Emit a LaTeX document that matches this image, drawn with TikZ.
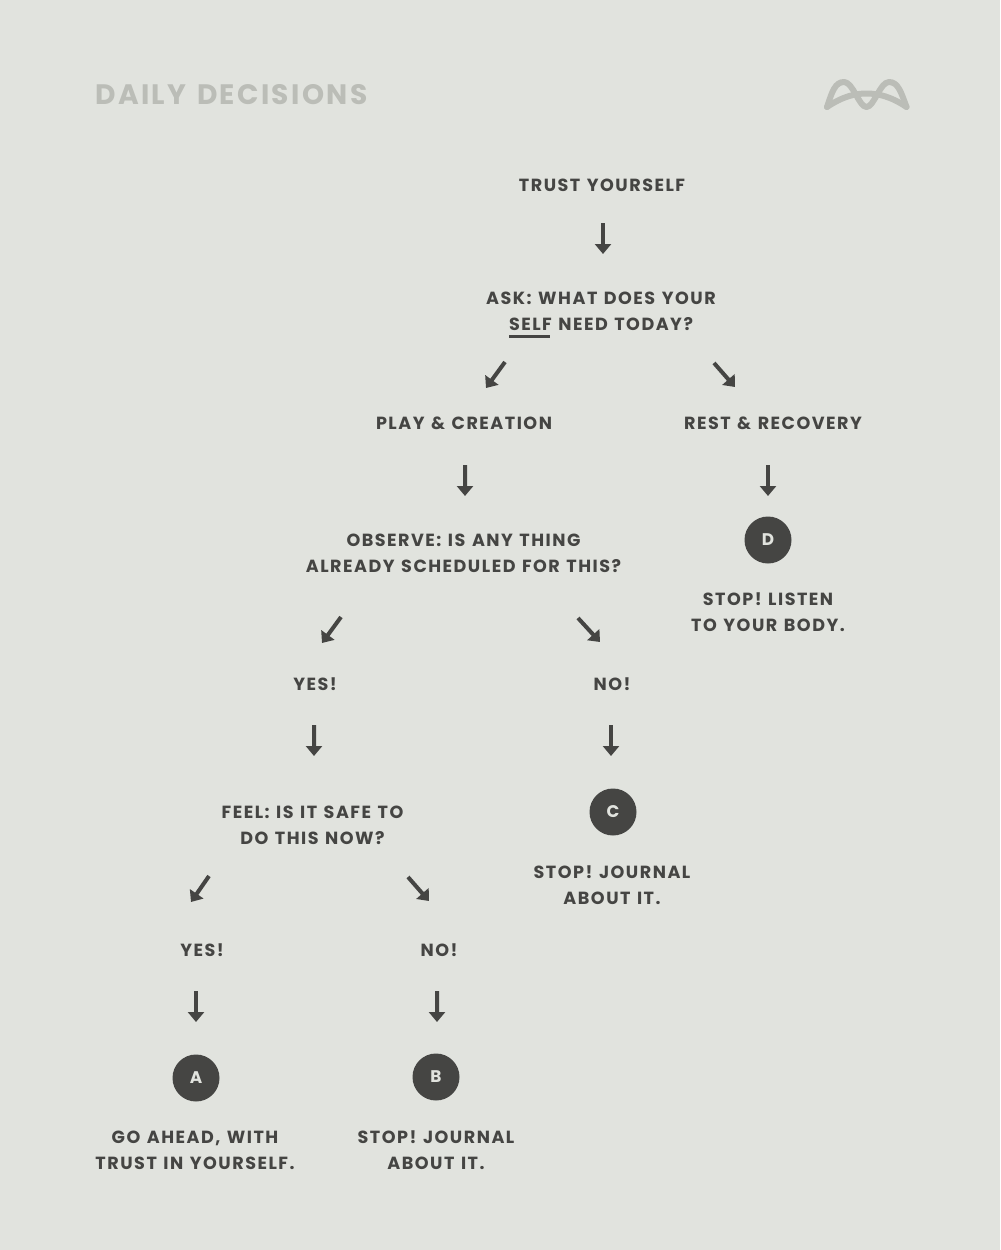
\documentclass[tikz,border=0pt]{standalone}
\usepackage{fontspec}
\setmainfont{Poppins}[LetterSpace=8.5,WordSpace=1.25]
\usetikzlibrary{arrows.meta}
\definecolor{paper}{HTML}{E1E3DE}
\definecolor{ink}{HTML}{454543}
\definecolor{faded}{HTML}{BBBDB7}
\newcommand{\markword}[1]{\setbox0\hbox{#1}\rlap{\rule[-0.14cm]{\dimexpr\wd0-0.04cm}{0.05cm}}\box0\relax}
\begin{document}
\begin{tikzpicture}[
  x=1cm,y=1cm,
  phrase/.style={font=\fontsize{10}{14.6}\selectfont\bfseries, text=ink, align=center, inner sep=0pt},
  badge/.style={circle, fill=ink, text=paper, minimum size=0.94cm, inner sep=0pt, font=\fontsize{9.6}{11}\selectfont\bfseries},
  flow/.style={draw=ink, line width=0.08cm, -{Triangle[length=0.2cm,width=0.32cm]}},
  logo/.style={draw=faded, line width=0.12cm, line cap=round, line join=round}
]
\fill[paper] (0,0) rectangle (20,-25);

\node[font=\fontsize{16}{20}\selectfont\bfseries, text=faded, inner sep=0pt] (title) at (4.63,-1.90) {DAILY DECISIONS};
\draw[logo] (16.54,-2.14) .. controls (16.64,-1.84) and (16.70,-1.64) .. (16.88,-1.64) .. controls (17.06,-1.64) and (17.18,-2.14) .. (17.33,-2.14)
  .. controls (17.48,-2.14) and (17.60,-1.64) .. (17.78,-1.64) .. controls (17.96,-1.64) and (18.02,-1.84) .. (18.13,-2.14);
\draw[logo] (16.54,-2.14) .. controls (16.85,-1.93) and (17.1,-1.87) .. (17.33,-1.87) .. controls (17.56,-1.87) and (17.82,-1.93) .. (18.13,-2.14);

\node[phrase] (trust) at (12.04,-3.71) {TRUST YOURSELF};
\node[phrase] (ask) at (12.02,-6.30) {ASK: WHAT DOES YOUR\\\markword{SELF} NEED TODAY?};
\node[phrase] (play) at (9.28,-8.46) {PLAY \& CREATION};
\node[phrase] (rest) at (15.46,-8.46) {REST \& RECOVERY};
\node[phrase] (observe) at (9.27,-11.06) {OBSERVE: IS ANY THING\\ALREADY SCHEDULED FOR THIS?};
\node[badge] (circD) at (15.36,-10.80) {D};
\node[phrase] (stopD) at (15.36,-12.24) {STOP! LISTEN\\TO YOUR BODY.};
\node[phrase] (yesobs) at (6.30,-13.68) {YES!};
\node[phrase] (noobs) at (12.24,-13.68) {NO!};
\node[phrase] (feel) at (6.25,-16.50) {FEEL: IS IT SAFE TO\\DO THIS NOW?};
\node[badge] (circC) at (12.26,-16.24) {C};
\node[phrase] (stopC) at (12.24,-17.70) {STOP! JOURNAL\\ABOUT IT.};
\node[phrase] (yesfeel) at (4.04,-19.00) {YES!};
\node[phrase] (nofeel) at (8.78,-19.00) {NO!};
\node[badge] (circA) at (3.92,-21.56) {A};
\node[badge] (circB) at (8.72,-21.54) {B};
\node[phrase] (stopA) at (3.90,-23.00) {GO AHEAD, WITH\\TRUST IN YOURSELF.};
\node[phrase] (stopB) at (8.72,-23.00) {STOP! JOURNAL\\ABOUT IT.};

\draw[flow] ([shift={(0.02,-0.75)}]trust.center) -- ([shift={(0.04,1.22)}]ask.center);
\draw[flow] ([shift={(-1.92,-0.94)}]ask.center) -- ([shift={(0.44,0.70)}]play.center);
\draw[flow] ([shift={(2.26,-0.96)}]ask.center) -- ([shift={(-0.76,0.72)}]rest.center);
\draw[flow] ([shift={(0.02,-0.84)}]play.center) -- ([shift={(0.03,1.14)}]observe.center);
\draw[flow] ([shift={(-0.10,-0.84)}]rest.center) -- ([shift={(0,0.88)}]circD.center);
\draw[flow] ([shift={(-2.45,-1.28)}]observe.center) -- ([shift={(0.14,0.82)}]yesobs.center);
\draw[flow] ([shift={(2.29,-1.30)}]observe.center) -- ([shift={(-0.24,0.84)}]noobs.center);
\draw[flow] ([shift={(-0.02,-0.82)}]yesobs.center) -- ([shift={(0.03,1.38)}]feel.center);
\draw[flow] ([shift={(-0.02,-0.82)}]noobs.center) -- ([shift={(-0.04,1.12)}]circC.center);
\draw[flow] ([shift={(-2.07,-1.02)}]feel.center) -- ([shift={(-0.22,0.96)}]yesfeel.center);
\draw[flow] ([shift={(1.91,-1.04)}]feel.center) -- ([shift={(-0.20,0.98)}]nofeel.center);
\draw[flow] ([shift={(-0.12,-0.82)}]yesfeel.center) -- ([shift={(0,1.12)}]circA.center);
\draw[flow] ([shift={(-0.04,-0.82)}]nofeel.center) -- ([shift={(0.02,1.10)}]circB.center);
\end{tikzpicture}
\end{document}
